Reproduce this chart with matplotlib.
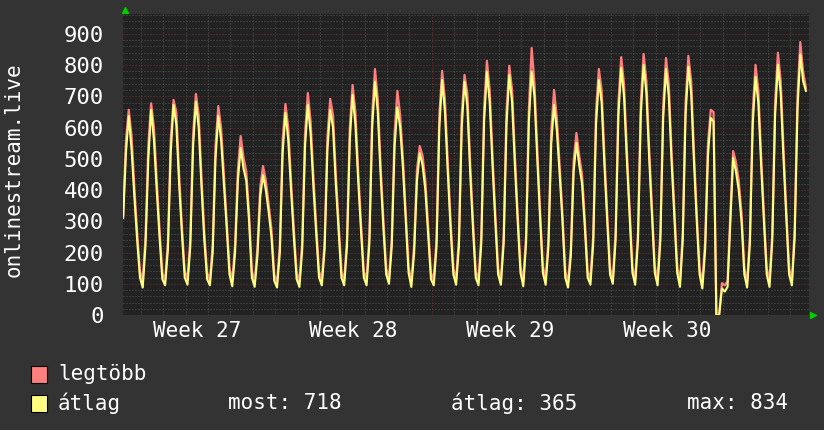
import numpy as np
import pandas as pd
import matplotlib as mpl
mpl.use('Agg')
import matplotlib.pyplot as plt
import matplotlib.dates as mdates
import matplotlib.transforms as mtransforms
from matplotlib.patches import Rectangle

# 3-hourly samples, one row per day (starting 2025-06-30 05:00)
# avg = "átlag" (yellow), peak = "legtöbb" (red)
avg_days = [
    [310, 520, 637, 530, 380, 240, 120, 88],
    [225, 500, 657, 560, 400, 250, 115, 95],
    [210, 520, 673, 610, 420, 260, 120, 97],
    [220, 540, 683, 600, 410, 240, 115, 95],
    [200, 500, 637, 560, 420, 280, 130, 92],
    [200, 430, 535, 470, 430, 300, 120, 90],
    [190, 380, 448, 400, 330, 250, 110, 88],
    [200, 520, 647, 560, 400, 250, 115, 90],
    [210, 540, 673, 580, 410, 260, 120, 95],
    [210, 530, 657, 600, 420, 270, 120, 95],
    [220, 560, 705, 610, 430, 270, 120, 95],
    [230, 600, 747, 650, 450, 280, 130, 100],
    [220, 540, 665, 600, 470, 300, 135, 90],
    [200, 430, 519, 480, 400, 260, 115, 95],
    [220, 600, 753, 650, 460, 280, 130, 97],
    [220, 600, 747, 670, 460, 280, 120, 95],
    [230, 620, 779, 680, 480, 300, 130, 97],
    [230, 610, 769, 680, 480, 300, 135, 92],
    [230, 620, 780, 700, 500, 310, 135, 97],
    [220, 550, 673, 590, 450, 300, 120, 88],
    [190, 460, 551, 480, 420, 280, 120, 97],
    [230, 610, 753, 680, 480, 300, 130, 100],
    [240, 640, 791, 700, 500, 320, 135, 97],
    [240, 640, 801, 710, 500, 320, 135, 95],
    [240, 630, 788, 700, 490, 310, 135, 90],
    [240, 640, 795, 710, 490, 300, 130, 85],
    [210, 510, 631, 620, 0, 0, 85, 75],
    [90, 300, 503, 460, 400, 300, 130, 88],
    [230, 610, 763, 680, 480, 300, 130, 90],
    [240, 640, 801, 710, 500, 310, 130, 95],
    [250, 660, 834, 750, 718],
]
max_days = [
    [320, 560, 657, 575, 410, 265, 140, 110],
    [250, 545, 678, 600, 430, 275, 135, 112],
    [235, 560, 689, 650, 450, 285, 140, 115],
    [245, 580, 708, 640, 440, 265, 135, 112],
    [225, 540, 669, 600, 450, 305, 150, 110],
    [225, 465, 573, 505, 460, 325, 140, 108],
    [215, 410, 477, 430, 355, 275, 130, 105],
    [225, 560, 676, 600, 430, 275, 135, 108],
    [235, 580, 711, 620, 440, 285, 140, 112],
    [235, 570, 692, 640, 450, 295, 140, 112],
    [245, 600, 737, 650, 460, 295, 140, 112],
    [255, 640, 788, 690, 480, 305, 150, 118],
    [245, 580, 718, 640, 500, 325, 155, 108],
    [225, 465, 541, 510, 430, 285, 135, 112],
    [245, 640, 782, 690, 490, 305, 150, 115],
    [245, 640, 769, 710, 490, 305, 140, 112],
    [255, 660, 814, 720, 510, 325, 150, 115],
    [255, 650, 798, 720, 510, 325, 155, 110],
    [255, 660, 855, 740, 530, 335, 155, 115],
    [245, 590, 721, 630, 480, 325, 140, 106],
    [215, 495, 583, 510, 450, 305, 140, 115],
    [255, 650, 788, 720, 510, 325, 150, 118],
    [265, 680, 826, 740, 530, 345, 155, 115],
    [265, 680, 836, 750, 530, 345, 155, 112],
    [265, 670, 823, 740, 520, 335, 155, 108],
    [265, 680, 830, 750, 520, 325, 150, 104],
    [235, 550, 657, 650, 0, 0, 102, 95],
    [108, 325, 525, 490, 430, 325, 150, 106],
    [255, 650, 801, 720, 510, 325, 150, 108],
    [265, 680, 840, 750, 530, 335, 150, 112],
    [275, 700, 874, 780, 728],
]
week_labels = ['Week 27', 'Week 28', 'Week 29', 'Week 30']
week_starts = pd.to_datetime(['2025-06-30', '2025-07-07', '2025-07-14', '2025-07-21'])
stat_labels = ['most: 718', 'átlag: 365', 'max: 834']
y_label = 'onlinestream.live'

avg_vals = np.concatenate(avg_days)
max_vals = np.concatenate(max_days)
times = pd.date_range('2025-06-30 05:00', periods=len(avg_vals), freq='3h')

BG = '#333333'
PLOT_BG = '#222222'
RED = '#ff7f7f'
YEL = '#ffff80'
MONO = 'DejaVu Sans Mono'
FS = 15

W, H = 824, 430
fig = plt.figure(figsize=(W / 100, H / 100), dpi=100, facecolor=BG)
ax = fig.add_axes([123 / W, 1 - 315 / H, 686 / W, 301 / H], facecolor=PLOT_BG)

ax.plot(times, max_vals, color=RED, lw=1.6, zorder=3)
ax.plot(times, avg_vals, color=YEL, lw=1.5, zorder=4)

ax.set_xlim(pd.Timestamp('2025-06-30 04:50'), pd.Timestamp('2025-07-30 20:20'))
ax.set_ylim(0, 964)

# grid: dotted grey minor, dotted dark red major
ax.set_yticks(np.arange(0, 901, 100))
ax.set_yticks(np.arange(0, 961, 20), minor=True)
ax.xaxis.set_major_locator(mdates.WeekdayLocator(byweekday=mdates.MO))
ax.xaxis.set_minor_locator(mdates.DayLocator())
dots = (0, (1, 2))
ax.grid(which='minor', color='#555555', lw=0.72, linestyle=dots, zorder=1)
ax.grid(which='major', color='#7a2e2e', lw=0.72, linestyle=dots, zorder=2)
ax.set_axisbelow(True)

ax.tick_params(axis='both', which='both', length=0)
ax.tick_params(axis='y', colors='white', labelsize=FS + 1, pad=14)
ax.set_xticklabels([])
for lbl in ax.get_yticklabels():
    lbl.set_family(MONO)
for sp in ax.spines.values():
    sp.set_visible(False)

# week labels centred in each week
trans = mtransforms.blended_transform_factory(ax.transData, ax.transAxes)
for ws, lab in zip(week_starts, week_labels):
    ax.text(ws + pd.Timedelta(hours=84), -0.053, lab, transform=trans, ha='center', va='center',
            color='white', fontsize=FS, family=MONO)

# green axis arrows
ax.plot([0.003], [1.013], marker='^', color='#00cc00', ms=4, transform=ax.transAxes, clip_on=False)
ax.plot([1.006], [0.0], marker='>', color='#00cc00', ms=4, transform=ax.transAxes, clip_on=False)

fig.text(14 / W, 1 - 170 / H, y_label, rotation=90, ha='center', va='center',
         color='white', fontsize=FS, family=MONO)

# legend
fig.patches.append(Rectangle((31 / W, 1 - 383 / H), 16 / W, 17 / H, transform=fig.transFigure,
                             facecolor=RED, edgecolor='black', lw=0.8))
fig.patches.append(Rectangle((31 / W, 1 - 412 / H), 16 / W, 17 / H, transform=fig.transFigure,
                             facecolor=YEL, edgecolor='black', lw=0.8))
fig.text(58 / W, 1 - 374 / H, 'legtöbb', ha='left', va='center', color='white', fontsize=FS, family=MONO)
fig.text(58 / W, 1 - 403 / H, 'átlag', ha='left', va='center', color='white', fontsize=FS, family=MONO)
for xpos, s in zip([228, 451, 687], stat_labels):
    fig.text(xpos / W, 1 - 403 / H, s, ha='left', va='center', color='white', fontsize=FS, family=MONO)

fig.savefig('out.png', dpi=100, facecolor=BG)
